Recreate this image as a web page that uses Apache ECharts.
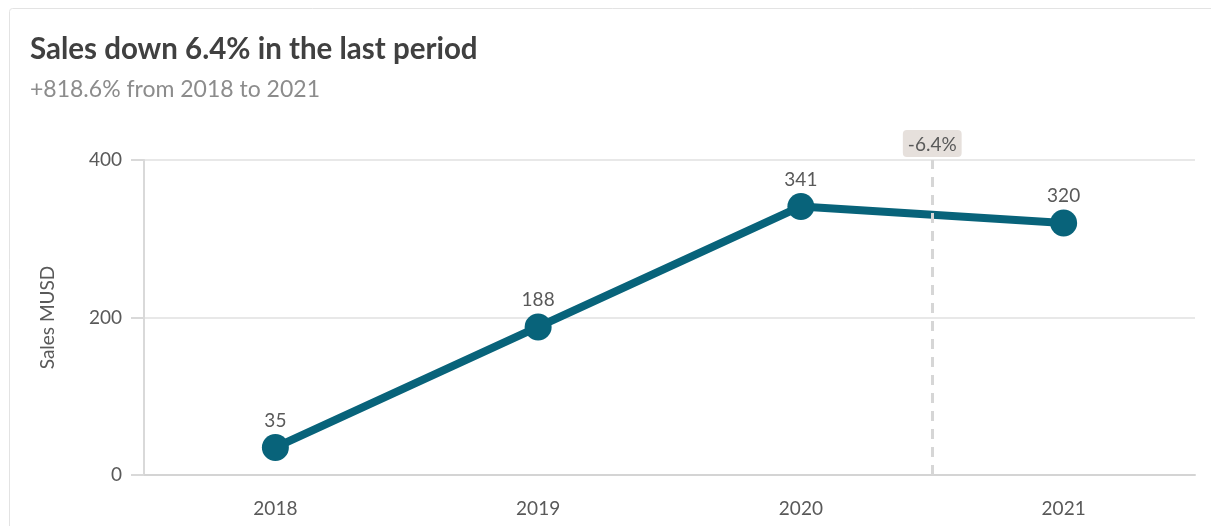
<!DOCTYPE html>
<html><head><meta charset="utf-8">
<script src="https://cdn.jsdelivr.net/npm/echarts@6/dist/echarts.min.js"></script>
<style>html,body{margin:0;padding:0;background:#fff}#c{width:1211px;height:526px}</style>
</head><body><div id="c"></div>
<script>
const categories = ['2018','2019','2020','2021'];
const sales = [35, 188, 341, 320];
const yTicks = [0, 200, 400];
const changeLabel = '-6.4%';
const changePos = 2.5;
const titleText = 'Sales down 6.4% in the last period';
const subText = '+818.6% from 2018 to 2021';
const yName = 'Sales MUSD';

const chart = echarts.init(document.getElementById('c'), null, {renderer:'canvas'});
const FONT = 'Lato, "Open Sans", sans-serif';
chart.setOption({
  backgroundColor:'#fff',
  animation:false,
  textStyle:{fontFamily:FONT},
  graphic:[{type:'rect',silent:true,z:-10,shape:{x:9.5,y:8.5,width:1400,height:700,r:3},style:{fill:'#fff',stroke:'#e3e3e3',lineWidth:1}}],
  title:{left:30,top:34,padding:0,text:titleText,subtext:subText,itemGap:14,
    textStyle:{fontFamily:FONT,fontSize:29.5,fontWeight:'bold',color:'#404040'},
    subtextStyle:{fontFamily:FONT,fontSize:23,color:'#8c8c8c'}},
  grid:{left:144,top:160,right:16,bottom:51,containLabel:false},
  xAxis:[{type:'category',data:categories,boundaryGap:true,
    axisLine:{show:true,lineStyle:{color:'#d4d4d4',width:2}},
    axisTick:{show:false},
    axisLabel:{color:'#595959',fontSize:19,margin:24,fontFamily:FONT}},
    {type:'value',min:-0.5,max:3.5,show:false,position:'bottom'}],
  yAxis:{type:'value',min:0,max:400,interval:200,name:yName,nameLocation:'middle',nameGap:87,
    nameTextStyle:{color:'#595959',fontSize:19,fontFamily:FONT},
    axisLine:{show:true,onZero:false,lineStyle:{color:'#d9d9d9',width:2}},
    axisTick:{show:true,length:13,lineStyle:{color:'#d9d9d9',width:2}},
    axisLabel:{color:'#595959',fontSize:19,margin:22,fontFamily:FONT,
      formatter:v=>yTicks.includes(v)?String(v):''},
    splitLine:{lineStyle:{color:'#e8e8e8',width:2}}},
  series:[{type:'line',data:sales,xAxisIndex:0,
    lineStyle:{color:'#08637a',width:8},itemStyle:{color:'#08637a'},
    symbol:'circle',symbolSize:27,
    label:{show:true,position:'top',distance:4,color:'#595959',fontSize:19,fontFamily:FONT}},
   {type:'line',xAxisIndex:1,data:[],
    markLine:{silent:true,symbol:['none','none'],
      lineStyle:{type:[10,8],color:'#d6d6d6',width:3},
      label:{show:true,position:'end',formatter:changeLabel,distance:3,
        backgroundColor:'#e6e0dc',borderRadius:4,padding:[5,5,3,5],color:'#595959',fontSize:19,fontFamily:FONT},
      data:[{xAxis:changePos}]}}]
});
</script></body></html>
